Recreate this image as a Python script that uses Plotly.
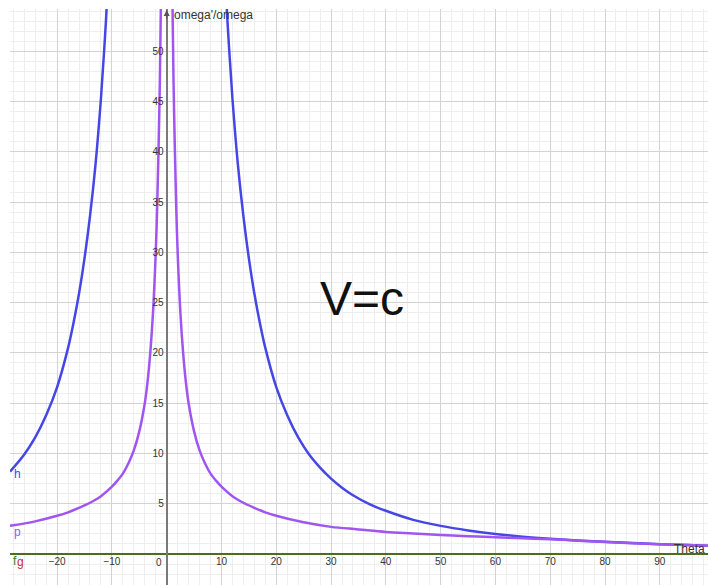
import plotly.graph_objects as go

# ---- data ----
h_left_theta = [-10.7, -11.0, -11.4, -12.0, -13.0, -14.0, -15.0, -16.0, -17.0, -18.0, -20.0, -22.0, -24.0,
                -26.0, -28.6]
h_left_val   = [57.5, 53.9, 50.2, 45.3, 38.7, 33.6, 29.4, 25.9, 23.0, 20.5, 16.6, 13.8, 11.6, 9.9, 8.2]

h_right_theta = [10.7, 11.0, 11.4, 12.0, 13.0, 14.0, 15.0, 16.0, 17.0, 18.0, 20.0, 22.0, 24.0, 26.0, 28.0,
                 30.0, 32.0, 34.0, 37.0, 40.0, 45.0, 50.0, 55.0, 60.0, 65.0, 70.0, 75.0, 80.0, 85.0, 90.0, 95.0, 98.8]
h_right_val   = [57.5, 53.9, 50.2, 45.3, 38.7, 33.6, 29.4, 25.9, 23.0, 20.5, 16.6, 13.8, 11.6, 9.9, 8.6,
                 7.5, 6.6, 5.85, 4.97, 4.3, 3.4, 2.8, 2.35, 2.0, 1.73, 1.52, 1.35, 1.21, 1.09, 0.98, 0.89, 0.83]

p_left_theta = [-1.0, -1.1, -1.25, -1.5, -1.75, -2.0, -2.5, -3.0, -3.5, -4.0, -5.0, -6.0, -7.0, -8.0, -9.0,
                -10.0, -12.0, -14.0, -16.0, -18.0, -20.0, -24.0, -28.6]
p_left_val   = [57.0, 53.0, 47.0, 40.0, 34.3, 30.0, 24.0, 20.0, 17.1, 15.0, 12.2, 10.3, 9.0, 8.0, 7.3,
                6.7, 5.75, 5.1, 4.6, 4.15, 3.8, 3.25, 2.8]

p_right_theta = [1.0, 1.1, 1.25, 1.5, 1.75, 2.0, 2.5, 3.0, 3.5, 4.0, 5.0, 6.0, 7.0, 8.0, 9.0, 10.0, 12.0, 14.0,
                 16.0, 18.0, 20.0, 25.0, 30.0, 35.0, 40.0, 45.0, 50.0, 55.0, 60.0, 65.0, 70.0, 75.0, 80.0, 85.0,
                 90.0, 95.0, 98.8]
p_right_val   = [57.0, 53.0, 47.0, 40.0, 34.3, 30.0, 24.0, 20.0, 17.1, 15.0, 12.2, 10.3, 9.0, 8.0, 7.3, 6.7, 5.75,
                 5.1, 4.6, 4.15, 3.8, 3.15, 2.7, 2.45, 2.2, 2.05, 1.9, 1.78, 1.66, 1.56, 1.47, 1.33, 1.2, 1.08,
                 0.98, 0.89, 0.83]

fg_theta = [-28.6, 98.8]
fg_val = [0.0, 0.0]

x_ticks = [-20, -10, 10, 20, 30, 40, 50, 60, 70, 80, 90]
y_ticks = [5, 10, 15, 20, 25, 30, 35, 40, 45, 50]

X_RANGE = [-28.6, 98.8]
Y_RANGE = [-3.08, 54.2]

H_COLOR = "#4646e6"
P_COLOR = "#a155f0"
FG_COLOR = "#4f6b1c"
FONT = "Liberation Sans, Arial, sans-serif"

fig = go.Figure()
for xs, ys in [(h_left_theta, h_left_val), (h_right_theta, h_right_val)]:
    fig.add_trace(go.Scatter(x=xs, y=ys, mode="lines",
                             line=dict(color=H_COLOR, width=2.5, shape="spline", smoothing=1.0),
                             showlegend=False, hoverinfo="skip"))
for xs, ys in [(p_left_theta, p_left_val), (p_right_theta, p_right_val)]:
    fig.add_trace(go.Scatter(x=xs, y=ys, mode="lines",
                             line=dict(color=P_COLOR, width=2.5, shape="spline", smoothing=1.0),
                             showlegend=False, hoverinfo="skip"))
# g (red) under f (green), both zero functions
fig.add_trace(go.Scatter(x=fg_theta, y=fg_val, mode="lines",
                         line=dict(color="#b03030", width=2), showlegend=False, hoverinfo="skip"))
fig.add_trace(go.Scatter(x=fg_theta, y=fg_val, mode="lines",
                         line=dict(color=FG_COLOR, width=2), showlegend=False, hoverinfo="skip"))

xpos = (0 - X_RANGE[0]) / (X_RANGE[1] - X_RANGE[0])
ypos = (0 - Y_RANGE[0]) / (Y_RANGE[1] - Y_RANGE[0])

fig.update_layout(
    width=708, height=585,
    margin=dict(l=10, r=0, t=9, b=0, pad=0),
    paper_bgcolor="white", plot_bgcolor="white",
    font=dict(family=FONT, color="#333333"),
    xaxis=dict(range=X_RANGE, tickvals=x_ticks, ticks="", showline=False, zeroline=False,
               showgrid=True, gridcolor="#d3d3d3", gridwidth=1,
               minor=dict(dtick=2, tick0=0, showgrid=True, gridcolor="#eeeeee", gridwidth=1),
               anchor="free", position=ypos, tickfont=dict(size=10, color="#333333"),
               fixedrange=True),
    yaxis=dict(range=Y_RANGE, tickvals=y_ticks, ticks="", showline=True, linecolor="#7a7a7a",
               linewidth=2, zeroline=False,
               showgrid=True, gridcolor="#d3d3d3", gridwidth=1,
               minor=dict(dtick=1, tick0=0, showgrid=True, gridcolor="#eeeeee", gridwidth=1),
               anchor="free", position=xpos, tickfont=dict(size=10, color="#333333"),
               fixedrange=True),
)

annos = [
    dict(x=0, y=0, text="0", xshift=-8, yshift=-8, font=dict(size=10, color="#333333")),
    dict(x=1.0, y=53.6, text="omega'/omega", xanchor="left", yanchor="middle",
         font=dict(size=12, color="#333333")),
    dict(x=X_RANGE[1] - 0.1, y=0.55, text="Theta", xanchor="right", yanchor="middle",
         font=dict(size=12, color="#333333")),
    dict(x=35.7, y=25.4, text="V=c", xanchor="center", yanchor="middle",
         font=dict(size=48, color="#111111")),
    dict(x=-27.3, y=7.95, text="h", xanchor="center", yanchor="middle",
         font=dict(size=12, color=H_COLOR)),
    dict(x=-27.3, y=2.2, text="p", xanchor="center", yanchor="middle",
         font=dict(size=12, color=P_COLOR)),
    dict(x=-26.6, y=-0.8, text="g", xanchor="center", yanchor="middle",
         font=dict(size=12, color="#c03030")),
    dict(x=-27.6, y=-0.7, text="f", xanchor="center", yanchor="middle",
         font=dict(size=12, color="#2e7d32")),
]
for a in annos:
    a.setdefault("showarrow", False)
    a["xref"] = "x"
    a["yref"] = "y"
    fig.add_annotation(**a)

# arrow at top of the y axis
fig.add_annotation(x=0, y=Y_RANGE[1] - 0.1, xref="x", yref="y", ax=0, ay=10, axref="pixel", ayref="pixel",
                   text="", showarrow=True, arrowhead=2, arrowsize=1, arrowwidth=1.2, arrowcolor="#555555")

fig.write_html("out.html", config={"displayModeBar": False},
               post_script="document.body.style.margin='0';document.body.style.overflow='hidden';")
